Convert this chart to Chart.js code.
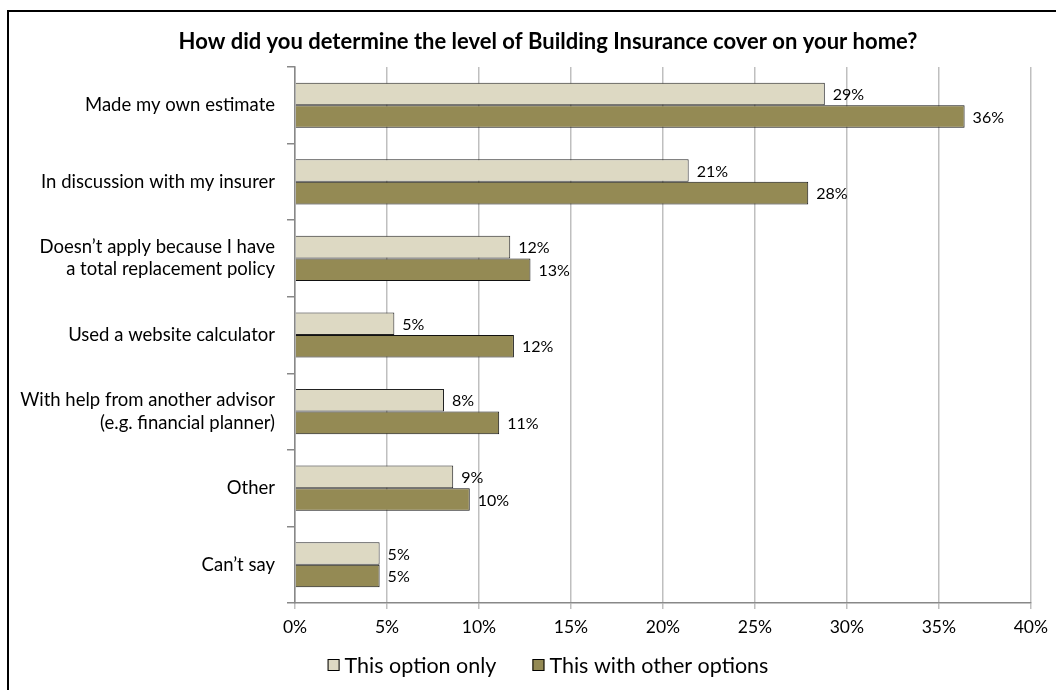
<!DOCTYPE html>
<html>
<head>
<meta charset="utf-8">
<script src="https://cdn.jsdelivr.net/npm/chart.js@4/dist/chart.umd.min.js"></script>
<style>
  body { margin: 0; background: #fff; }
  #frame {
    position: absolute; left: 7px; top: 10px; width: 1100px; height: 800px;
    border-left: 2px solid #000; border-top: 2px solid #000;
  }
  #wrap { position: absolute; left: 0; top: 0; width: 1056px; height: 690px; }
</style>
</head>
<body>
<div id="frame"></div>
<div id="wrap"><canvas id="chart" width="1056" height="690"></canvas></div>
<script>
// categories, top to bottom
var categories = [
  'Made my own estimate',
  'In discussion with my insurer',
  ['Doesn\u2019t apply because I have', 'a total replacement policy'],
  'Used a website calculator',
  ['With help from another advisor', '(e.g. financial planner)'],
  'Other',
  'Can\u2019t say'
];
var optionOnly = [28.8, 21.4, 11.7, 5.4, 8.1, 8.6, 4.6];
var withOthers = [36.4, 27.9, 12.8, 11.9, 11.1, 9.5, 4.6];
var seriesNames = ['This option only', 'This with other options'];
var seriesColors = ['#DDD9C3', '#948A54'];
var xTicks = [0, 5, 10, 15, 20, 25, 30, 35, 40];
var chartTitle = 'How did you determine the level of Building Insurance cover on your home?';

var FONT = 'Lato, "DejaVu Sans", sans-serif';
var CENTER_X = 548;

// draws "29%" style labels at the end of each bar
var valueLabels = {
  id: 'valueLabels',
  afterDatasetsDraw: function(chart) {
    var ctx = chart.ctx;
    ctx.save();
    ctx.font = '16px ' + FONT;
    ctx.fillStyle = '#000';
    ctx.textBaseline = 'middle';
    ctx.textAlign = 'left';
    chart.data.datasets.forEach(function(ds, i) {
      chart.getDatasetMeta(i).data.forEach(function(bar, j) {
        ctx.fillText(Math.round(ds.data[j]) + '%', bar.x + 8, bar.y + 1);
      });
    });
    ctx.restore();
  }
};

// title and legend are centred on the whole frame, not the chart box
var titleAndLegend = {
  id: 'titleAndLegend',
  afterDraw: function(chart) {
    var ctx = chart.ctx;
    ctx.save();
    ctx.fillStyle = '#000';
    ctx.textBaseline = 'middle';
    ctx.textAlign = 'center';
    ctx.font = 'bold 22px ' + FONT;
    ctx.fillText(chartTitle, CENTER_X, 42);

    ctx.textAlign = 'left';
    ctx.font = '21.5px ' + FONT;
    var box = 12, gap = 5, itemGap = 36;
    var widths = chart.data.datasets.map(function(ds) {
      return box + gap + ctx.measureText(ds.label).width;
    });
    var total = widths.reduce(function(a, b) { return a + b; }, 0) + itemGap * (widths.length - 1);
    var x = CENTER_X - total / 2;
    var y = 665;
    chart.data.datasets.forEach(function(ds, i) {
      ctx.fillStyle = ds.backgroundColor;
      ctx.fillRect(x, y - box / 2, box, box);
      ctx.strokeStyle = '#000';
      ctx.lineWidth = 1;
      ctx.strokeRect(x + 0.5, y - box / 2 + 0.5, box - 1, box - 1);
      ctx.fillStyle = '#000';
      ctx.fillText(ds.label, x + box + gap, y + 1);
      x += widths[i] + itemGap;
    });
    ctx.restore();
  }
};

var ctx = document.getElementById('chart');
var chart = new Chart(ctx, {
  type: 'bar',
  data: {
    labels: categories,
    datasets: [
      {
        label: seriesNames[0],
        data: optionOnly,
        backgroundColor: seriesColors[0],
        borderColor: '#222',
        borderWidth: 1,
        categoryPercentage: 0.59,
        barPercentage: 1.0
      },
      {
        label: seriesNames[1],
        data: withOthers,
        backgroundColor: seriesColors[1],
        borderColor: '#111',
        borderWidth: 1,
        categoryPercentage: 0.59,
        barPercentage: 1.0
      }
    ]
  },
  options: {
    indexAxis: 'y',
    responsive: false,
    animation: false,
    layout: { padding: { left: 0, right: 25, top: 67, bottom: 42 } },
    plugins: {
      title: { display: false },
      legend: { display: false },
      tooltip: { enabled: false }
    },
    scales: {
      x: {
        min: 0,
        max: 40,
        afterBuildTicks: function(scale) {
          scale.ticks = xTicks.map(function(v) { return { value: v }; });
        },
        ticks: {
          color: '#000',
          font: { family: FONT, size: 17.5 },
          padding: 8,
          callback: function(v) { return v + '%'; }
        },
        grid: { color: '#BFBFBF', lineWidth: 1.5, tickLength: 6 },
        border: { display: true, color: '#888', width: 1.5 },
        afterFit: function(scale) { scale.height = 45; }
      },
      y: {
        ticks: {
          color: '#000',
          font: { family: FONT, size: 18.5 },
          padding: 12
        },
        grid: { offset: true, drawOnChartArea: false, color: '#888', tickLength: 8, lineWidth: 1.5 },
        border: { display: true, color: '#888', width: 1.5 },
        afterFit: function(scale) { scale.width = 295; }
      }
    }
  },
  plugins: [valueLabels, titleAndLegend]
});
</script>
</body>
</html>
